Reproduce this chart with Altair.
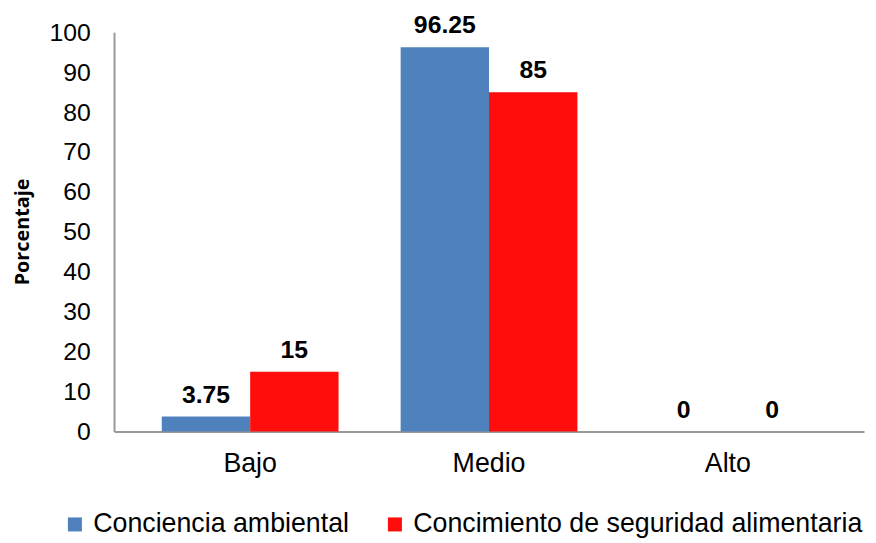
import altair as alt
import pandas as pd

categories = ["Bajo", "Medio", "Alto"]
series = ["Conciencia ambiental", "Concimiento de seguridad alimentaria"]
conciencia = [3.75, 96.25, 0]
concimiento = [15, 85, 0]
colors = ["#4F81BD", "#FF0D0D"]

rows = []
for i, c in enumerate(categories):
    rows.append({"cat": c, "serie": series[0], "val": conciencia[i], "lbl": f"{conciencia[i]:g}"})
    rows.append({"cat": c, "serie": series[1], "val": concimiento[i], "lbl": f"{concimiento[i]:g}"})
df = pd.DataFrame(rows)

FONT = "Liberation Sans"

x = alt.X("cat:N", sort=categories, title=None,
          scale=alt.Scale(paddingInner=0.26, paddingOuter=0.2),
          axis=alt.Axis(labelAngle=0, labelFontSize=27, labelFont=FONT, labelColor="#000000",
                        labelPadding=19, ticks=False, domainColor="#999999", domainWidth=2))
y = alt.Y("val:Q", title="Porcentaje",
          scale=alt.Scale(domain=[0, 100], nice=False),
          axis=alt.Axis(values=list(range(0, 101, 10)), grid=False, ticks=False,
                        labelFontSize=25, labelFont=FONT, labelColor="#000000", labelPadding=24,
                        domainColor="#999999", domainWidth=2,
                        titleFont="Open Sans", titleFontSize=20, titleFontWeight="bold",
                        titleColor="#000000", titleX=-82, titleY=201))
color = alt.Color("serie:N", sort=series,
                  scale=alt.Scale(domain=series, range=colors),
                  legend=alt.Legend(title=None, orient="none", direction="horizontal",
                                    legendX=-53, legendY=483, symbolType="square",
                                    symbolSize=200, symbolStrokeWidth=0, labelFontSize=27,
                                    labelFont=FONT, labelColor="#000000", labelOffset=5,
                                    columnPadding=32, labelLimit=600))
xoff = alt.XOffset("serie:N", sort=series)

base = alt.Chart(df)
bars = base.mark_bar().encode(x=x, y=y, color=color, xOffset=xoff)
text = base.mark_text(baseline="bottom", dy=-9, fontSize=25, fontWeight="bold",
                      font=FONT, color="#000000").encode(
    x=alt.X("cat:N", sort=categories), y="val:Q", xOffset=xoff, text="lbl:N")

chart = (bars + text).properties(
    width=757, height=403,
    background="#ffffff",
    autosize=alt.AutoSizeParams(type="none"),
    padding={"left": 107, "top": 22, "right": 4, "bottom": 109},
).configure_view(stroke=None, strokeWidth=0)

chart.save("out.html", embed_options={"renderer": "svg", "actions": False})
